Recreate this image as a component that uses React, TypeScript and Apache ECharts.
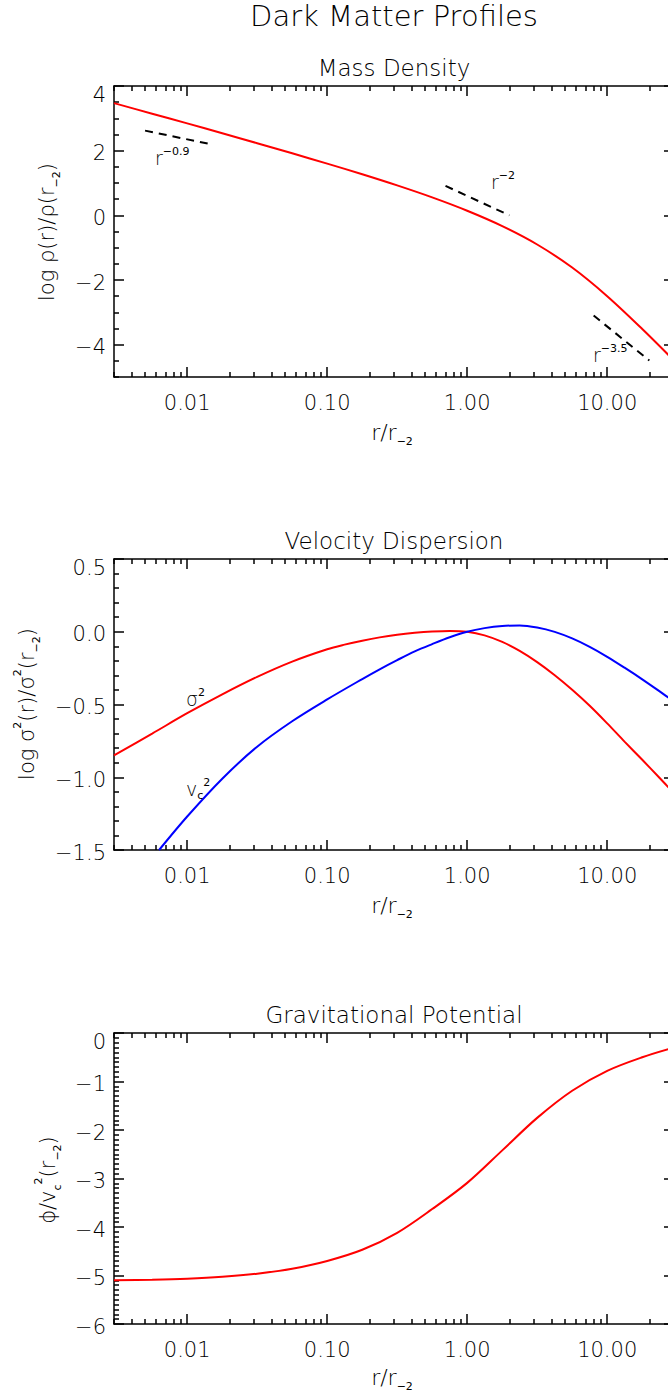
import React, { useEffect, useRef } from 'react';
import * as echarts from 'echarts';

// ---------- data ----------
// radii (r / r_-2)
const rGrid = [0.003, 0.00562, 0.01, 0.0178, 0.0316, 0.0562, 0.1, 0.178, 0.316, 0.562, 1, 1.78, 3.16, 5.62, 10, 17.8, 30];
const logDensity = [3.47, 3.144, 2.843, 2.539, 2.231, 1.918, 1.600, 1.271, 0.926, 0.555, 0.142, -0.333, -0.902, -1.615, -2.50, -3.515, -4.49];
const phiNorm = [-5.10, -5.088, -5.067, -5.028, -4.963, -4.86, -4.70, -4.47, -4.12, -3.63, -3.09, -2.42, -1.75, -1.19, -0.78, -0.50, -0.30];

const rSigma = [0.003, 0.00562, 0.01, 0.0178, 0.0316, 0.0562, 0.1, 0.133, 0.178, 0.237, 0.316, 0.422, 0.562, 0.75, 1, 1.33, 1.78, 2.37, 3.16, 4.22, 5.62, 7.5, 10, 13.3, 17.8, 23.7, 30];
const logSigma2 = [-0.85, -0.70, -0.56, -0.43, -0.31, -0.205, -0.12, -0.0885, -0.0615, -0.0387, -0.0207, -0.0077, 0.0011, 0.0055, 0.0, -0.025, -0.07, -0.132, -0.209, -0.299, -0.399, -0.509, -0.63, -0.755, -0.88, -1.005, -1.11];

const rVc = [0.0063, 0.01, 0.0178, 0.0316, 0.0562, 0.1, 0.178, 0.237, 0.316, 0.422, 0.562, 0.75, 1, 1.33, 1.78, 2.37, 3.16, 4.22, 5.62, 7.5, 10, 13.3, 17.8, 23.7, 30];
const logVc2 = [-1.50, -1.27, -1.01, -0.79, -0.615, -0.465, -0.325, -0.258, -0.195, -0.135, -0.085, -0.038, 0.0, 0.025, 0.040, 0.043, 0.029, -0.001, -0.046, -0.104, -0.172, -0.247, -0.327, -0.41, -0.48];

// reference power-law segments
const slopeInner = [[0.005, 2.62], [0.014, 2.22]];   // r^-0.9
const slopeMid = [[0.7, 0.91], [2.0, 0.0]];          // r^-2
const slopeOuter = [[8, -3.1], [20, -4.49]];         // r^-3.5

// axes
const X_MIN = 0.003;
const X_MAX = 30;
const xMajorTicks = [0.01, 0.1, 1, 10];
const xMajorLabels = ['0.01', '0.10', '1.00', '10.00'];
const densityRange = [-5, 4];
const densityTicks = [-4, -2, 0, 2, 4];
const densityLabels = ['\u22124', '\u22122', '0', '2', '4'];
const dispersionRange = [-1.5, 0.5];
const dispersionTicks = [-1.5, -1, -0.5, 0, 0.5];
const dispersionLabels = ['\u22121.5', '\u22121.0', '\u22120.5', '0.0', '0.5'];
const potentialRange = [-6, 0];
const potentialTicks = [-6, -5, -4, -3, -2, -1, 0];
const potentialLabels = ['\u22126', '\u22125', '\u22124', '\u22123', '\u22122', '\u22121', '0'];

const FONT = "'DejaVu Sans', Verdana, sans-serif";
const FW: any = 200;
const TICK_FS = 21;

function xMinorTicks() {
  const out: number[] = [];
  [0.001, 0.01, 0.1, 1, 10].forEach((d) => {
    for (let k = 2; k <= 9; k++) {
      const v = Number((k * d).toPrecision(6));
      if (v >= X_MIN && v <= X_MAX) out.push(v);
    }
  });
  return out;
}
function yMinorTicks(min: number, max: number, step: number, majorStep: number) {
  const out: number[] = [];
  const n = Math.round((max - min) / step);
  for (let i = 0; i <= n; i++) {
    const v = Number((min + i * step).toFixed(4));
    const q = v / majorStep;
    if (Math.abs(q - Math.round(q)) > 1e-6) out.push(v);
  }
  return out;
}

const AXIS = { color: '#000', width: 1.5 };
const GRID_LEFT = 114;
const GRID_W = 560;
const GRID_H = 291;
const gridTops = [86, 559, 1033];

function xAxesFor(g: number) {
  const base: any = {
    gridIndex: g, type: 'log', logBase: 10, min: X_MIN, max: X_MAX,
    splitLine: { show: false }, minorTick: { show: false }, axisPointer: { show: false },
  };
  const minor = xMinorTicks();
  const major = { show: true, inside: true, length: 10, customValues: xMajorTicks, lineStyle: AXIS };
  const minorT = { show: true, inside: true, length: 5, customValues: minor, lineStyle: AXIS };
  return [
    {
      ...base, position: 'bottom',
      axisLine: { show: true, onZero: false, lineStyle: AXIS },
      axisTick: major,
      axisLabel: {
        show: true, customValues: xMajorTicks, margin: 15,
        formatter: (v: number) => {
          const i = xMajorTicks.findIndex((t) => Math.abs(t - v) / t < 1e-6);
          return i >= 0 ? xMajorLabels[i] : '';
        },
        fontSize: TICK_FS, fontFamily: FONT, fontWeight: FW, color: '#000',
      },
    },
    { ...base, position: 'bottom', axisLine: { show: false, onZero: false }, axisTick: minorT, axisLabel: { show: false } },
    { ...base, position: 'top', axisLine: { show: true, onZero: false, lineStyle: AXIS }, axisTick: major, axisLabel: { show: false } },
    { ...base, position: 'top', axisLine: { show: false, onZero: false }, axisTick: minorT, axisLabel: { show: false } },
  ];
}

function yAxesFor(g: number, range: number[], ticks: number[], labels: string[], minor: number[]) {
  const base: any = {
    gridIndex: g, type: 'value', min: range[0], max: range[1],
    splitLine: { show: false }, axisPointer: { show: false },
  };
  const major = { show: true, inside: true, length: 10, customValues: ticks, lineStyle: AXIS };
  const minorT = { show: true, inside: true, length: 5, customValues: minor, lineStyle: AXIS };
  const lab = { fontSize: TICK_FS, fontFamily: FONT, fontWeight: FW, color: '#000' };
  return [
    {
      ...base, position: 'left',
      axisLine: { show: true, onZero: false, lineStyle: AXIS },
      axisTick: major,
      axisLabel: {
        show: true, customValues: ticks, margin: 8, showMinLabel: true, showMaxLabel: true,
        formatter: (v: number) => {
          const i = ticks.findIndex((t) => Math.abs(t - v) < 1e-6);
          if (i < 0) return '';
          return (Math.abs(v - range[1]) < 1e-6 ? '{t|' : '{n|') + labels[i] + '}';
        },
        ...lab,
        rich: {
          n: { ...lab, padding: [5, 0, 0, 0] },
          t: { ...lab, padding: [18, 0, 0, 0] },
        },
      },
    },
    { ...base, position: 'left', axisLine: { show: false, onZero: false }, axisTick: minorT, axisLabel: { show: false } },
    { ...base, position: 'right', axisLine: { show: true, onZero: false, lineStyle: AXIS }, axisTick: major, axisLabel: { show: false } },
    { ...base, position: 'right', axisLine: { show: false, onZero: false }, axisTick: minorT, axisLabel: { show: false } },
  ];
}

const zip = (xs: number[], ys: number[]) => xs.map((x, i) => [x, ys[i]]);

function curve(g: number, data: number[][], color: string, name: string) {
  return {
    name, type: 'line', xAxisIndex: g * 4, yAxisIndex: g * 4, data,
    showSymbol: false, symbol: 'none', smooth: 0.33, clip: true,
    lineStyle: { color, width: 2 }, z: 3,
  };
}
function dashed(g: number, data: number[][], name: string) {
  return {
    name, type: 'line', xAxisIndex: g * 4, yAxisIndex: g * 4, data,
    showSymbol: false, symbol: 'none', clip: true,
    lineStyle: { color: '#000', width: 2, type: [8, 6] }, z: 3,
  };
}

const mainStyle = (size: number, lh: number) => ({ fontSize: size, fontFamily: FONT, fontWeight: FW, fill: '#000', lineHeight: lh, verticalAlign: 'middle' });
const supStyle = { fontSize: 11, fontFamily: FONT, fontWeight: 400, fill: '#000', lineHeight: 10, verticalAlign: 'top' };
const subStyle = { fontSize: 11, fontFamily: FONT, fontWeight: 400, fill: '#000', lineHeight: 10, verticalAlign: 'bottom' };

function label(x: number, y: number, text: string, opts: any = {}) {
  const size = opts.size || 21;
  const lh = opts.lh || 30;
  return {
    type: 'text', x, y, rotation: opts.rotation || 0, z: 10,
    style: {
      text,
      align: opts.align || 'center', textAlign: opts.align || 'center',
      verticalAlign: 'middle', textVerticalAlign: 'middle',
      fontSize: size, fontFamily: FONT, fontWeight: FW, fill: '#000',
      rich: { m: mainStyle(size, lh), p: supStyle, s: subStyle },
    },
  };
}

export default function App() {
  const ref = useRef<HTMLDivElement>(null);
  useEffect(() => {
    if (!ref.current) return;
    const chart = echarts.init(ref.current, undefined, { renderer: 'svg' });
    const grids = gridTops.map((top) => ({ left: GRID_LEFT, top, width: GRID_W, height: GRID_H, outerBoundsMode: 'none', containLabel: false }));
    const option: any = {
      animation: false,
      backgroundColor: '#fff',
      grid: grids,
      xAxis: [...xAxesFor(0), ...xAxesFor(1), ...xAxesFor(2)],
      yAxis: [
        ...yAxesFor(0, densityRange, densityTicks, densityLabels, yMinorTicks(-5, 4, 0.5, 2)),
        ...yAxesFor(1, dispersionRange, dispersionTicks, dispersionLabels, yMinorTicks(-1.5, 0.5, 0.1, 0.5)),
        ...yAxesFor(2, potentialRange, potentialTicks, potentialLabels, yMinorTicks(-6, 0, 0.1, 1)),
      ],
      series: [
        curve(0, zip(rGrid, logDensity), '#ff0000', 'density'),
        dashed(0, slopeInner, 'r^-0.9'),
        dashed(0, slopeMid, 'r^-2'),
        dashed(0, slopeOuter, 'r^-3.5'),
        curve(1, zip(rSigma, logSigma2), '#ff0000', 'sigma2'),
        curve(1, zip(rVc, logVc2), '#0000ff', 'vc2'),
        curve(2, zip(rGrid, phiNorm), '#ff0000', 'phi'),
      ],
      graphic: [
        label(394, 16, 'Dark Matter Profiles', { size: 29, lh: 34 }),
        label(394, 68, 'Mass Density', { size: 23 }),
        label(394, 541, 'Velocity Dispersion', { size: 23 }),
        label(394, 1015, 'Gravitational Potential', { size: 23 }),
        label(392, 432, '{m|r/r}{s|\u22122}', { size: 22 }),
        label(392, 905, '{m|r/r}{s|\u22122}', { size: 22 }),
        label(392, 1377, '{m|r/r}{s|\u22122}', { size: 22 }),
        label(47, 232, '{m|log \u03c1(r)/\u03c1(r}{s|\u22122}{m|)}', { rotation: Math.PI / 2 }),
        label(27, 704, '{m|log \u03c3}{p|2}{m|(r)/\u03c3}{p|2}{m|(r}{s|\u22122}{m|)}', { rotation: Math.PI / 2 }),
        label(48, 1180, '{m|\u03d5/v}{s|c}{p|2}{m|(r}{s|\u22122}{m|)}', { rotation: Math.PI / 2 }),
        label(155, 158, '{m|r}{p|\u22120.9}', { align: 'left', size: 19, lh: 24 }),
        label(491, 182, '{m|r}{p|\u22122}', { align: 'left', size: 19, lh: 24 }),
        label(593, 355, '{m|r}{p|\u22123.5}', { align: 'left', size: 19, lh: 24 }),
        label(186, 699, '{m|\u03c3}{p|2}', { align: 'left', size: 19, lh: 24 }),
        label(186, 789, '{m|v}{s|c}{p|2}', { align: 'left', size: 19, lh: 24 }),
      ],
    };
    chart.setOption(option);
    return () => chart.dispose();
  }, []);
  return (
    <div style={{ position: 'absolute', left: 0, top: 0, width: 668, height: 1397, overflow: 'hidden', background: '#fff' }}>
      <div ref={ref} style={{ width: 700, height: 1397 }} />
    </div>
  );
}
